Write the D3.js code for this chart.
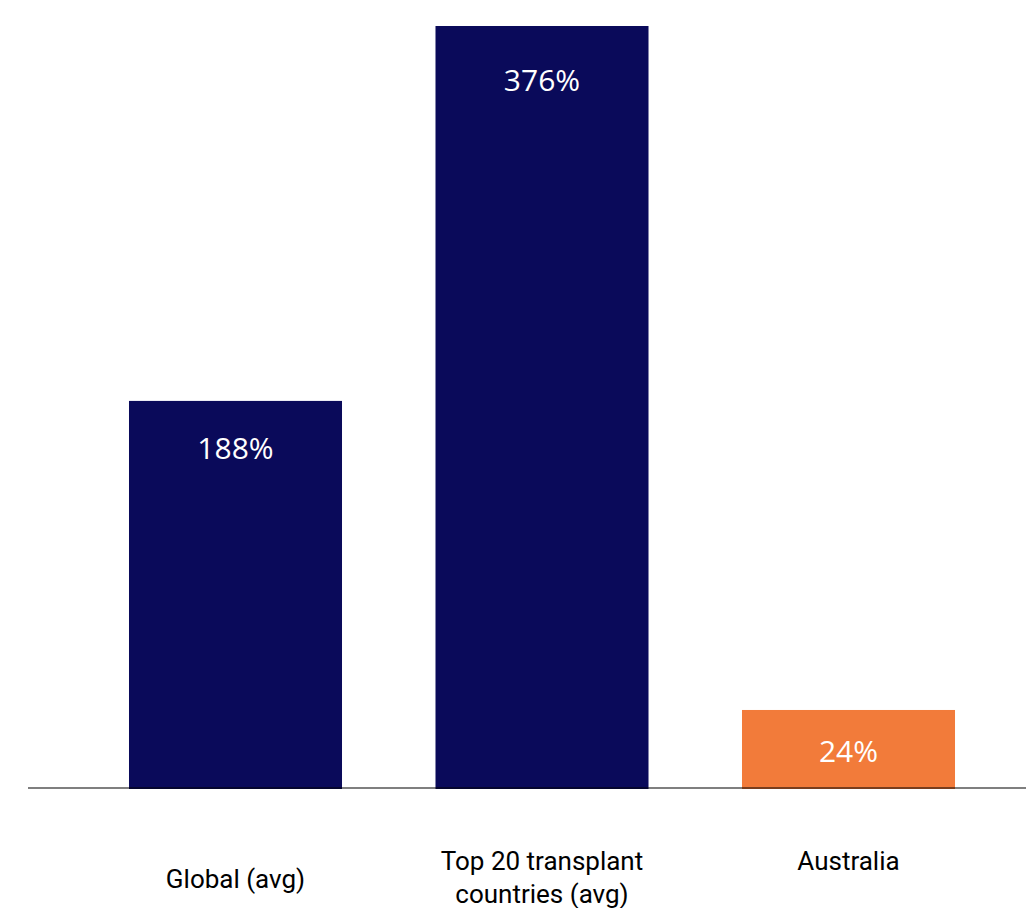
<!DOCTYPE html>
<html>
<head>
<meta charset="utf-8">
<script src="https://cdn.jsdelivr.net/npm/d3@7"></script>
<style>
  body { margin: 0; background: #fff; }
</style>
</head>
<body>
<div id="chart"></div>
<script>
var categories = ["Global (avg)", "Top 20 transplant countries (avg)", "Australia"];
var categoryLines = [["Global (avg)"], ["Top 20 transplant", "countries (avg)"], ["Australia"]];
var barValues = [191, 376, 38.5];
var valueLabels = ["188%", "376%", "24%"];
var barColors = ["#0a0a5a", "#0a0a5a", "#f27b3a"];

var width = 1026, height = 908;

var svg = d3.select("#chart")
  .append("svg")
    .attr("width", width)
    .attr("height", height);

// x scale
var x = d3.scaleBand()
  .domain(categories)
  .range([82.25, 1001.75])
  .paddingInner(0.305)
  .paddingOuter(0.1525);

// y scale
var y = d3.scaleLinear()
  .domain([0, 376])
  .range([788, 26]);

// bars
svg.append("g")
  .selectAll("rect")
  .data(categories)
  .enter()
  .append("rect")
    .attr("x", function(d) { return x(d); })
    .attr("y", function(d, i) { return y(barValues[i]); })
    .attr("width", x.bandwidth())
    .attr("height", function(d, i) { return y(0) - y(barValues[i]) + 1; })
    .style("fill", function(d, i) { return barColors[i]; });

// value labels inside bars (taller bars get the label a bit lower)
svg.append("g")
  .selectAll("text")
  .data(categories)
  .enter()
  .append("text")
    .attr("x", function(d) { return x(d) + x.bandwidth() / 2; })
    .attr("y", function(d, i) { return y(barValues[i]) + 51 + 14 * barValues[i] / 376; })
    .attr("text-anchor", "middle")
    .style("font-family", "'Open Sans', sans-serif")
    .style("font-size", "30px")
    .style("fill", "#fff")
    .text(function(d, i) { return valueLabels[i]; });

// baseline
svg.append("line")
  .attr("x1", 28)
  .attr("x2", width)
  .attr("y1", y(0))
  .attr("y2", y(0))
  .style("stroke", "#000")
  .style("stroke-opacity", 0.5)
  .style("stroke-width", 2);

// category labels
var labels = svg.append("g")
  .selectAll("text")
  .data(categories)
  .enter()
  .append("text")
    .attr("x", function(d) { return x(d) + x.bandwidth() / 2; })
    .attr("y", function(d, i) { return i === 0 ? 888 : 870; })
    .attr("text-anchor", "middle")
    .style("font-family", "Roboto, sans-serif")
    .style("font-size", "26px")
    .style("fill", "#000");

labels.selectAll("tspan")
  .data(function(d, i) { return categoryLines[i]; })
  .enter()
  .append("tspan")
    .attr("x", function() { var c = d3.select(this.parentNode).datum(); return x(c) + x.bandwidth() / 2; })
    .attr("dy", function(d, j) { return j === 0 ? 0 : 33; })
    .text(function(d) { return d; });
</script>
</body>
</html>
